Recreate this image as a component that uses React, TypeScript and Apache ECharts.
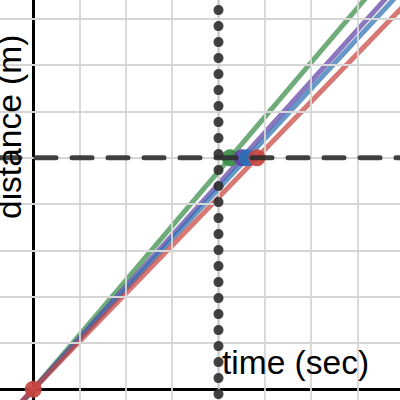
import React, { useEffect, useRef } from "react";
import * as echarts from "echarts";

// Data
const gridX = [-1, 1, 2, 3, 4, 5, 6, 7];
const gridY = [1, 2, 3, 4, 5, 6, 7, 8];
const targetDistance = 5; // dashed horizontal line (m)
const markTime = 4; // dotted vertical line (sec)
const seriesNames = ["green", "purple", "blue", "red"];
const crossTimes = [4.25, 4.51, 4.62, 4.83]; // time at which each line reaches 5 m
const seriesColors = ["#388c46", "#6042a6", "#2d70b3", "#c74440"];

// Axis view window
const X_MIN = -33.3 / 46.3;
const X_MAX = (400 - 33.3) / 46.3;
const Y_MIN = -10.7 / 46.3;
const Y_MAX = 389.3 / 46.3;

export default function App() {
  const ref = useRef<HTMLDivElement>(null);
  useEffect(() => {
    if (!ref.current) return;
    const chart = echarts.init(ref.current, undefined, { renderer: "svg" });
    const series: any[] = [];
    // grid lines
    series.push({
      type: "line",
      data: [],
      silent: true,
      z: 1,
      markLine: {
        silent: true,
        symbol: "none",
        label: { show: false },
        animation: false,
        lineStyle: { color: "#d6d6d6", width: 1.8, type: "solid" },
        data: [
          ...gridX.map((v) => ({ xAxis: v })),
          ...gridY.map((v) => ({ yAxis: v })),
        ],
      },
    });
    // lines through origin
    crossTimes.forEach((t, i) => {
      const k = targetDistance / t;
      series.push({
        type: "line",
        name: seriesNames[i],
        data: [
          [-1, -k],
          [10, 10 * k],
        ],
        symbol: "none",
        showSymbol: false,
        z: 3,
        lineStyle: { color: seriesColors[i], width: 5, opacity: 0.72 },
      });
    });
    // thin lines under dotted / dashed
    series.push({
      type: "line",
      data: [
        [markTime, Y_MAX],
        [markTime, Y_MIN],
      ],
      symbol: "none",
      z: 4,
      lineStyle: { color: "#777", width: 1.5 },
    });
    series.push({
      type: "line",
      data: [
        [X_MIN, targetDistance],
        [X_MAX, targetDistance],
      ],
      symbol: "none",
      z: 4,
      lineStyle: { color: "#888", width: 1.5 },
    });
    // points
    crossTimes.forEach((t, i) => {
      series.push({
        type: "scatter",
        data: [[t, targetDistance]],
        symbolSize: 17,
        z: 5,
        itemStyle: { color: seriesColors[i], opacity: 0.92 },
      });
    });
    series.push({
      type: "scatter",
      data: [[0, 0]],
      symbolSize: 17,
      z: 5,
      itemStyle: { color: seriesColors[3], opacity: 0.92 },
    });
    // dotted vertical
    series.push({
      type: "line",
      data: [
        [markTime, Y_MAX],
        [markTime, Y_MIN],
      ],
      symbol: "none",
      z: 6,
      lineStyle: {
        color: "#2e2e2e",
        opacity: 0.9,
        width: 10,
        type: [0.1, 15.9],
        dashOffset: 6,
        cap: "round",
      },
    });
    // dashed horizontal
    series.push({
      type: "line",
      data: [
        [X_MIN, targetDistance],
        [X_MAX, targetDistance],
      ],
      symbol: "none",
      z: 6,
      lineStyle: {
        color: "#2e2e2e",
        opacity: 0.9,
        width: 5,
        type: [20, 16],
        dashOffset: 0,
        cap: "round",
      },
    });

    chart.setOption({
      animation: false,
      grid: { left: 0, right: 0, top: 0, bottom: 0 },
      xAxis: {
        type: "value",
        min: X_MIN,
        max: X_MAX,
        axisLine: { show: true, onZero: true, lineStyle: { color: "#000", width: 3 } },
        axisTick: { show: false },
        axisLabel: { show: false },
        splitLine: { show: false },
      },
      yAxis: {
        type: "value",
        min: Y_MIN,
        max: Y_MAX,
        axisLine: { show: true, onZero: true, lineStyle: { color: "#000", width: 3 } },
        axisTick: { show: false },
        axisLabel: { show: false },
        splitLine: { show: false },
      },
      graphic: [
        {
          type: "text",
          x: 222,
          y: 362.5,
          z: 10,
          style: {
            text: "time (sec)",
            font: "33.5px 'Liberation Sans', Arial, sans-serif",
            fill: "#000",
            align: "left",
            verticalAlign: "middle",
          },
        },
        {
          type: "text",
          x: 9.5,
          y: 219,
          rotation: Math.PI / 2,
          z: 10,
          style: {
            text: "distance (m)",
            font: "33.5px 'Liberation Sans', Arial, sans-serif",
            fill: "#000",
            align: "left",
            verticalAlign: "middle",
          },
        },
      ],
      series,
    });
    return () => chart.dispose();
  }, []);
  return (
    <div
      ref={ref}
      style={{ position: "fixed", left: 0, top: 0, width: 400, height: 400, background: "#fff" }}
    />
  );
}
